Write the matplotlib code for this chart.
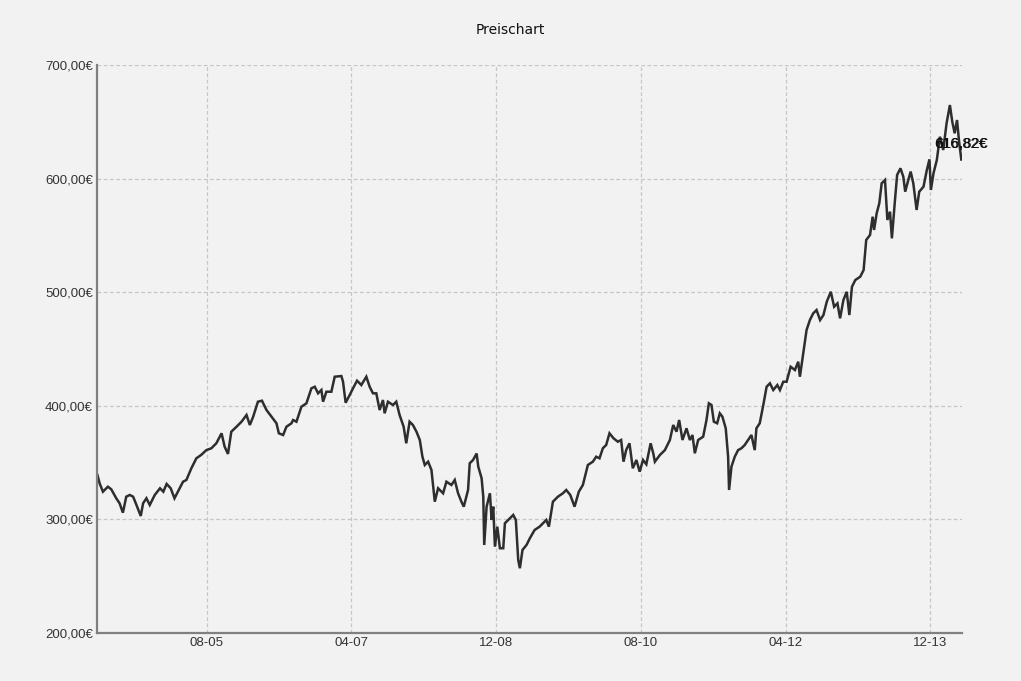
import pandas as pd
import matplotlib
matplotlib.use("Agg")
import matplotlib.pyplot as plt
import matplotlib.dates as mdates
from matplotlib.ticker import FuncFormatter

# Kursdaten
datum = [
    "2004-04-28", "2004-05-07", "2004-05-21", "2004-06-11", "2004-06-25", "2004-07-16",
    "2004-07-30", "2004-08-13", "2004-08-27", "2004-09-11", "2004-09-25", "2004-10-09",
    "2004-10-27", "2004-11-06", "2004-11-20", "2004-12-04", "2004-12-25", "2005-01-16",
    "2005-01-30", "2005-02-13", "2005-03-02", "2005-03-18", "2005-04-09", "2005-04-23",
    "2005-05-07", "2005-05-28", "2005-06-18", "2005-07-08", "2005-07-30", "2005-08-20",
    "2005-09-10", "2005-10-02", "2005-10-15", "2005-10-29", "2005-11-12", "2005-12-04",
    "2005-12-25", "2006-01-15", "2006-01-29", "2006-02-12", "2006-03-04", "2006-03-21",
    "2006-04-09", "2006-04-30", "2006-05-21", "2006-05-31", "2006-06-18", "2006-07-02",
    "2006-07-23", "2006-07-30", "2006-08-13", "2006-09-03", "2006-09-24", "2006-10-15",
    "2006-10-29", "2006-11-12", "2006-11-26", "2006-12-03", "2006-12-17", "2007-01-07",
    "2007-01-21", "2007-02-18", "2007-02-25", "2007-03-08", "2007-03-25", "2007-04-08",
    "2007-04-25", "2007-05-13", "2007-06-03", "2007-06-17", "2007-07-01", "2007-07-15",
    "2007-07-29", "2007-08-12", "2007-08-19", "2007-09-02", "2007-09-23", "2007-10-07",
    "2007-10-21", "2007-11-07", "2007-11-18", "2007-12-02", "2007-12-16", "2007-12-31",
    "2008-01-14", "2008-01-25", "2008-02-04", "2008-02-18", "2008-03-03", "2008-03-17",
    "2008-03-31", "2008-04-21", "2008-05-05", "2008-05-26", "2008-06-09", "2008-06-23",
    "2008-07-07", "2008-07-17", "2008-08-04", "2008-08-11", "2008-08-25", "2008-09-09",
    "2008-09-16", "2008-09-30", "2008-10-07", "2008-10-11", "2008-10-21", "2008-11-04",
    "2008-11-11", "2008-11-18", "2008-11-25", "2008-12-05", "2008-12-16", "2008-12-30",
    "2009-01-06", "2009-01-20", "2009-02-10", "2009-02-21", "2009-03-03", "2009-03-10",
    "2009-03-21", "2009-04-07", "2009-04-21", "2009-05-11", "2009-06-01", "2009-06-15",
    "2009-06-29", "2009-07-10", "2009-07-27", "2009-08-17", "2009-09-07", "2009-09-21",
    "2009-10-08", "2009-10-26", "2009-11-13", "2009-11-30", "2009-12-21", "2010-01-11",
    "2010-01-25", "2010-02-08", "2010-02-22", "2010-03-08", "2010-03-22", "2010-04-08",
    "2010-04-26", "2010-05-10", "2010-05-20", "2010-05-31", "2010-06-14", "2010-06-28",
    "2010-07-13", "2010-07-27", "2010-08-10", "2010-08-24", "2010-09-11", "2010-09-22",
    "2010-09-29", "2010-10-20", "2010-11-10", "2010-12-01", "2010-12-15", "2010-12-29",
    "2011-01-09", "2011-01-23", "2011-02-09", "2011-02-23", "2011-03-06", "2011-03-16",
    "2011-03-30", "2011-04-20", "2011-05-04", "2011-05-14", "2011-05-25", "2011-06-04",
    "2011-06-18", "2011-06-29", "2011-07-10", "2011-07-24", "2011-08-03", "2011-08-07",
    "2011-08-17", "2011-08-31", "2011-09-14", "2011-09-28", "2011-10-12", "2011-10-26",
    "2011-11-09", "2011-11-23", "2011-11-30", "2011-12-14", "2011-12-29", "2012-01-12",
    "2012-01-26", "2012-02-09", "2012-02-26", "2012-03-08", "2012-03-22", "2012-04-05",
    "2012-04-22", "2012-05-10", "2012-05-24", "2012-05-31", "2012-06-14", "2012-06-28",
    "2012-07-12", "2012-07-26", "2012-08-09", "2012-08-24", "2012-09-07", "2012-09-21",
    "2012-10-08", "2012-10-22", "2012-11-05", "2012-11-16", "2012-11-30", "2012-12-14",
    "2012-12-25", "2013-01-05", "2013-01-19", "2013-02-09", "2013-02-23", "2013-03-06",
    "2013-03-22", "2013-04-02", "2013-04-08", "2013-04-19", "2013-04-30", "2013-05-10",
    "2013-05-24", "2013-06-03", "2013-06-14", "2013-06-22", "2013-07-05", "2013-07-14",
    "2013-07-28", "2013-08-09", "2013-08-17", "2013-08-30", "2013-09-09", "2013-09-20",
    "2013-10-04", "2013-10-15", "2013-11-02", "2013-11-16", "2013-11-27", "2013-12-03",
    "2013-12-14", "2013-12-28", "2014-01-10", "2014-01-24", "2014-02-07", "2014-02-21",
    "2014-03-03", "2014-03-13", "2014-03-23", "2014-03-31", "2014-04-10",
]
kurs = [
    339.0, 331.8, 324.4, 328.8, 326.5, 318.6,
    314.2, 305.9, 320.0, 321.5, 320.0, 312.7,
    303.0, 314.2, 318.6, 312.7, 321.5, 327.4,
    324.4, 331.2, 327.4, 318.6, 327.4, 333.2,
    334.7, 345.0, 353.8, 356.7, 361.0, 362.6,
    367.0, 375.8, 364.0, 357.6, 377.2, 381.6,
    386.0, 391.9, 383.1, 390.4, 403.6, 404.5,
    396.3, 390.4, 384.6, 375.8, 374.3, 381.6,
    384.6, 387.5, 386.0, 399.2, 402.2, 415.4,
    416.8, 411.0, 413.9, 403.6, 412.4, 412.4,
    425.6, 426.2, 421.2, 402.7, 409.5, 415.4,
    422.1, 418.3, 425.6, 416.8, 411.0, 411.0,
    396.3, 405.1, 393.4, 403.6, 400.7, 403.6,
    391.9, 381.6, 367.0, 386.0, 383.1, 377.2,
    369.9, 355.2, 347.9, 350.8, 343.5, 315.6,
    327.4, 323.0, 333.2, 330.3, 334.7, 323.0,
    315.6, 311.2, 325.9, 349.4, 352.3, 358.0,
    346.4, 336.2, 320.0, 277.5, 311.2, 323.0,
    299.5, 311.2, 276.0, 293.6, 274.6, 274.6,
    296.6, 299.5, 303.9, 299.5, 264.3, 257.0,
    273.1, 277.5, 283.4, 290.7, 293.6, 296.6,
    299.5, 293.6, 315.6, 320.0, 323.0, 325.9,
    321.5, 311.2, 324.4, 330.3, 347.9, 350.8,
    355.2, 353.8, 362.6, 365.5, 375.8, 371.4,
    368.4, 369.9, 350.8, 361.0, 367.0, 345.0,
    352.3, 342.0, 352.3, 348.5, 367.0, 358.2,
    350.8, 356.7, 361.0, 369.9, 383.1, 377.2,
    387.5, 369.9, 380.2, 369.9, 374.3, 358.2,
    369.9, 372.8, 387.5, 402.2, 400.7, 386.0,
    384.6, 393.4, 390.4, 380.2, 355.2, 325.9,
    346.4, 355.2, 361.0, 362.6, 365.5, 369.9,
    374.3, 361.0, 380.2, 384.6, 400.7, 416.8,
    419.8, 413.9, 418.3, 413.9, 421.2, 421.2,
    434.4, 431.5, 438.8, 425.6, 446.2, 466.7,
    475.5, 481.4, 484.3, 475.5, 479.9, 491.6,
    500.4, 487.2, 490.2, 477.0, 493.1, 500.4,
    479.9, 504.8, 510.7, 513.7, 519.5, 546.0,
    550.4, 566.5, 554.8, 569.5, 578.3, 595.9,
    598.8, 563.6, 570.9, 547.4, 581.2, 603.2,
    609.1, 601.7, 588.5, 598.8, 606.2, 595.9,
    572.4, 588.5, 592.9, 607.6, 617.0, 590.0,
    604.7, 616.4, 636.9, 625.2, 648.7, 664.8,
    650.1, 639.9, 651.6, 634.0, 616.82,
]
x_ticks = ["2005-08-01", "2007-04-01", "2008-12-01", "2010-08-01", "2012-04-01", "2013-12-01"]
y_ticks = [200, 300, 400, 500, 600, 700]

datum = pd.to_datetime(datum)

bg = "#f2f2f2"
fig = plt.figure(figsize=(10.21, 6.81), dpi=100, facecolor=bg)
ax = fig.add_axes([0.095, 0.0705, 0.847, 0.834], facecolor=bg)

ax.plot(datum, kurs, color="#2e2e2e", linewidth=1.8, solid_joinstyle="miter")

ax.set_xlim(pd.Timestamp("2004-04-26"), pd.Timestamp("2014-04-12"))
ax.set_ylim(200, 700)
ax.set_xticks(pd.to_datetime(x_ticks))
ax.xaxis.set_major_formatter(mdates.DateFormatter("%m-%y"))
ax.set_yticks(y_ticks)
ax.yaxis.set_major_formatter(FuncFormatter(lambda v, p: f"{v:.2f}".replace(".", ",") + "€"))

ax.grid(True, color="#c6c6c6", linestyle=(0, (3, 2)), linewidth=0.9)
ax.set_axisbelow(True)
ax.tick_params(length=0, labelsize=9.5, labelcolor="#333333", pad=3)
for lab in ax.get_xticklabels() + ax.get_yticklabels():
    lab.set_family(["Liberation Sans", "DejaVu Sans"])

for s in ["top", "right"]:
    ax.spines[s].set_visible(False)
for s in ["left", "bottom"]:
    ax.spines[s].set_color("#808080")
    ax.spines[s].set_linewidth(1.6)

fig.text(0.5, 0.956, "Preischart", ha="center", va="center", fontsize=10, color="#111111",
         family="DejaVu Sans")

# letzter Kurs als Beschriftung (leicht doppelt gezeichnet wie im Original)
letzter = f"{kurs[-1]:.2f}".replace(".", ",") + "€"
for dx in (0, 1):
    ax.annotate(letzter, xy=(datum[-1], kurs[-1]), xytext=(-27 + dx, 16), textcoords="offset pixels",
                fontsize=10.5, color="#111111", family=["Liberation Sans", "DejaVu Sans"],
                va="center", ha="left", annotation_clip=False)

fig.savefig("out.png", dpi=100, facecolor=bg)
